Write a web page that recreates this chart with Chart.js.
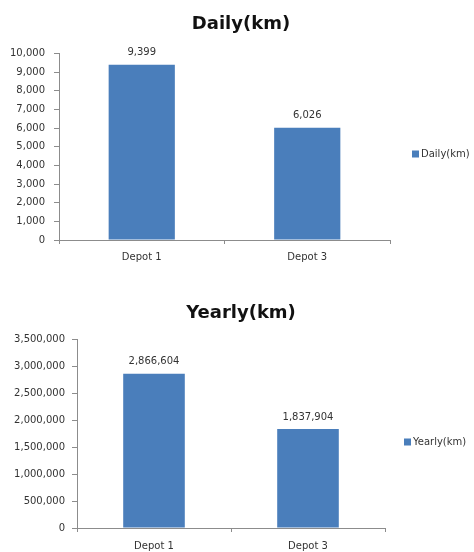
<!DOCTYPE html>
<html>
<head>
<meta charset="utf-8">
<script src="https://cdn.jsdelivr.net/npm/chart.js@4/dist/chart.umd.min.js"></script>
<style>
  html, body { margin: 0; padding: 0; background: #ffffff; }
  body { width: 474px; height: 552px; position: relative; overflow: hidden; }
  .box { position: absolute; left: 0; width: 474px; }
</style>
</head>
<body>
<div class="box" style="top:0;height:270px"><canvas id="daily"></canvas></div>
<div class="box" style="top:280px;height:281px"><canvas id="yearly"></canvas></div>
<script>
// Data
const depots = ['Depot 1', 'Depot 3'];
const dailyKm = [9399, 6026];
const yearlyKm = [2866604, 1837904];
const dailyAxis = { max: 10000, step: 1000 };
const yearlyAxis = { max: 3500000, step: 500000 };

const BAR_BLUE = '#4a7ebb';
const AXIS_GREY = '#8c8c8c';
const TEXT = '#333333';
const FONT = 'DejaVu Sans';

Chart.defaults.font.family = FONT;
Chart.defaults.color = TEXT;

const fmt = v => Number(v).toLocaleString('en-US');

// Value labels above each bar
const barLabels = {
    id: 'barLabels',
    afterDatasetsDraw(chart) {
        const ctx = chart.ctx;
        const meta = chart.getDatasetMeta(0);
        const values = chart.data.datasets[0].data;
        ctx.save();
        ctx.font = `10px "${FONT}"`;
        ctx.fillStyle = TEXT;
        ctx.textAlign = 'center';
        ctx.textBaseline = 'middle';
        meta.data.forEach((bar, i) => {
            ctx.fillText(fmt(values[i]), bar.x, bar.y - 12);
        });
        ctx.restore();
    },
};

// Excel-style legend sitting to the right of the plot
const sideLegend = {
    id: 'sideLegend',
    afterDraw(chart, args, opts) {
        const ctx = chart.ctx;
        const x = chart.chartArea.right + opts.gap;
        const y = opts.y;
        ctx.save();
        ctx.fillStyle = BAR_BLUE;
        ctx.fillRect(x, y - 3.5, 7, 7);
        ctx.font = `10px "${FONT}"`;
        ctx.fillStyle = TEXT;
        ctx.textAlign = 'left';
        ctx.textBaseline = 'middle';
        ctx.fillText(chart.data.datasets[0].label, x + 9, y);
        ctx.restore();
    },
};

/**
 * Build one Excel-looking column chart.
 */
function makeChart(canvas, title, values, axis, layout) {
    const leftPad = 8;
    return new Chart(canvas, {
        type: 'bar',
        data: {
            labels: depots,
            datasets: [
                {
                    label: title,
                    data: values,
                    backgroundColor: BAR_BLUE,
                    borderWidth: 0,
                    categoryPercentage: 1,
                    barPercentage: 0.4,
                },
            ],
        },
        options: {
            responsive: true,
            maintainAspectRatio: false,
            animation: false,
            layout: {
                padding: { left: leftPad, right: 0, top: 0, bottom: layout.bottom },
            },
            plugins: {
                legend: { display: false },
                tooltip: { enabled: false },
                title: {
                    display: true,
                    text: title,
                    color: '#111111',
                    font: { size: 18, weight: 'bold' },
                    padding: { top: layout.titleTop, bottom: layout.titleBottom },
                },
                sideLegend: { gap: layout.legendGap, y: layout.legendY },
            },
            scales: {
                x: {
                    offset: true,
                    grid: {
                        offset: true,
                        drawOnChartArea: false,
                        drawTicks: true,
                        tickLength: 4,
                        color: AXIS_GREY,
                    },
                    border: { color: AXIS_GREY },
                    ticks: { padding: layout.xPad, font: { size: 10 }, color: TEXT },
                },
                y: {
                    min: 0,
                    max: axis.max,
                    afterFit: s => { s.width = layout.axisX - leftPad; },
                    grid: {
                        drawOnChartArea: false,
                        drawTicks: true,
                        tickLength: 5,
                        color: AXIS_GREY,
                    },
                    border: { color: AXIS_GREY },
                    ticks: {
                        stepSize: axis.step,
                        padding: layout.yPad,
                        font: { size: 10 },
                        color: TEXT,
                        callback: v => fmt(v),
                    },
                },
                // empty right-hand band that leaves room for the legend
                legendRoom: {
                    type: 'linear',
                    position: 'right',
                    afterFit: s => { s.width = layout.right; },
                    grid: { display: false },
                    border: { display: false },
                    ticks: { display: false },
                },
            },
        },
        plugins: [barLabels, sideLegend],
    });
}

makeChart(document.getElementById('daily'), 'Daily(km)', dailyKm, dailyAxis, {
    axisX: 59, right: 84, bottom: 0, titleTop: 14, titleBottom: 18,
    xPad: 7, yPad: 9, legendGap: 22, legendY: 154,
});

makeChart(document.getElementById('yearly'), 'Yearly(km)', yearlyKm, yearlyAxis, {
    axisX: 77, right: 89, bottom: 1, titleTop: 23, titleBottom: 15,
    xPad: 8, yPad: 7, legendGap: 19, legendY: 162,
});
</script>
</body>
</html>
